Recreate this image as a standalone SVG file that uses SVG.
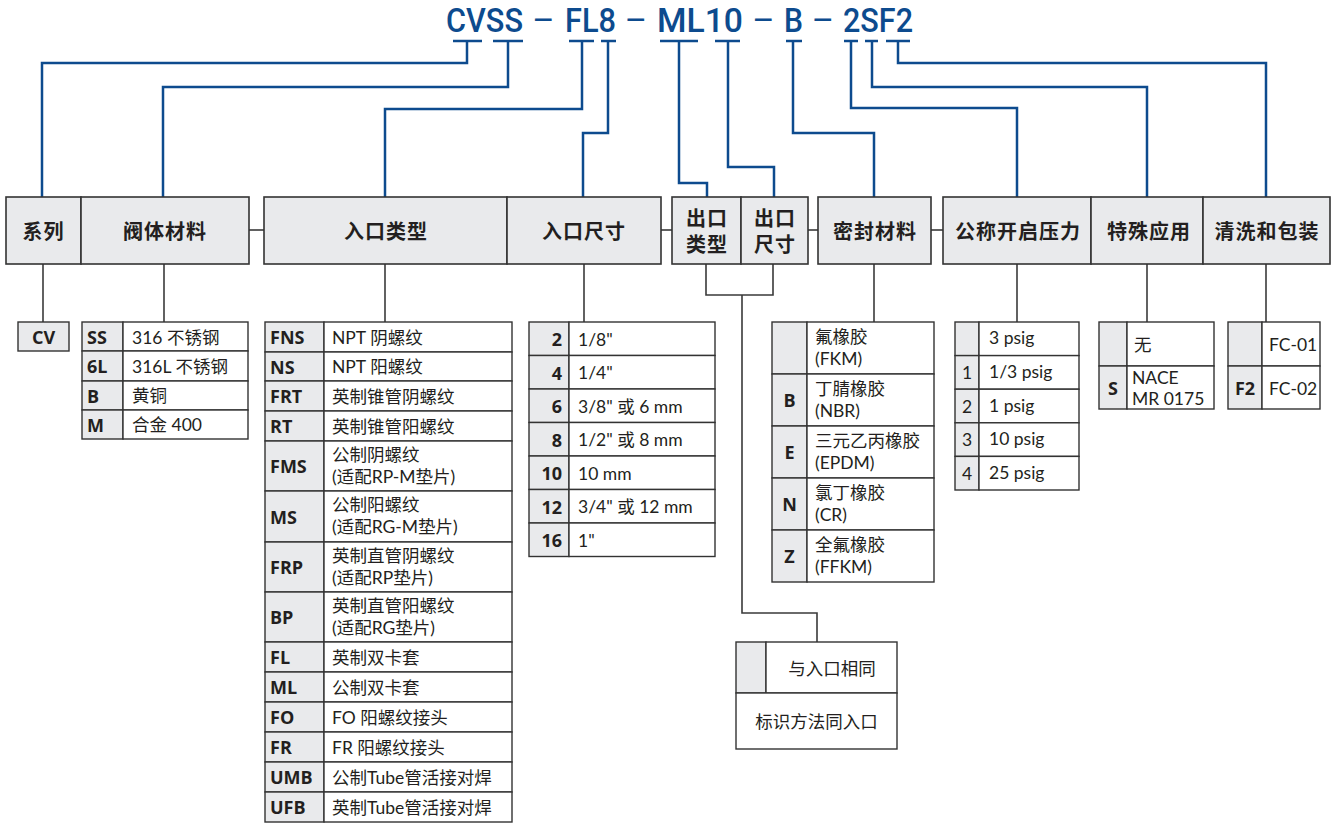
<svg xmlns="http://www.w3.org/2000/svg" width="1333" height="823" viewBox="0 0 1333 823">
<style>
.bg{fill:#ffffff}
.title{font-family:Roboto,"Liberation Sans",sans-serif;font-weight:500;font-size:34px;fill:#0d4b8e}
.dash{font-family:Roboto,"Liberation Sans",sans-serif;font-weight:400;font-size:34px;fill:#0d4b8e;text-anchor:middle}
.blue{fill:none;stroke:#0d4b8e;stroke-width:2.5}
.gray{fill:none;stroke:#3a3a3a;stroke-width:1.6}
.hd{fill:#e9eaec;stroke:#333;stroke-width:1.6}
.ht{font-family:Lato,"Noto Sans CJK SC",sans-serif;font-weight:bold;font-size:20px;letter-spacing:1px;fill:#231f20;text-anchor:middle;dominant-baseline:central}
.c{fill:#e9eaec;stroke:#333;stroke-width:1.4}
.w{fill:#ffffff;stroke:#333;stroke-width:1.4}
.k{font-family:"Open Sans","Noto Sans CJK SC",sans-serif;font-weight:bold;font-size:18px;fill:#231f20;dominant-baseline:central}
.km{text-anchor:middle}
.ke{text-anchor:end}
.d{font-family:Lato,"Noto Sans CJK SC",sans-serif;font-size:17.5px;fill:#231f20;dominant-baseline:central}
.dm{text-anchor:middle}
</style>
<rect class="bg" x="0" y="0" width="1333" height="823"/>

<g id="title">
<text class="title" x="446" y="32" textLength="77" lengthAdjust="spacingAndGlyphs">CVSS</text>
<text class="dash" x="543.5" y="32">–</text>
<text class="title" x="565" y="32" textLength="51" lengthAdjust="spacingAndGlyphs">FL8</text>
<text class="dash" x="636" y="32">–</text>
<text class="title" x="657" y="32" textLength="86" lengthAdjust="spacingAndGlyphs">ML10</text>
<text class="dash" x="763.5" y="32">–</text>
<text class="title" x="784" y="32" textLength="19" lengthAdjust="spacingAndGlyphs">B</text>
<text class="dash" x="823" y="32">–</text>
<text class="title" x="843" y="32" textLength="70" lengthAdjust="spacingAndGlyphs">2SF2</text>
</g>

<g id="connectors">
<g id="ticks" class="blue">
<line x1="453" y1="41" x2="482" y2="41"/>
<line x1="493" y1="41" x2="523" y2="41"/>
<line x1="569" y1="41" x2="594" y2="41"/>
<line x1="601" y1="41" x2="616" y2="41"/>
<line x1="660" y1="41" x2="698" y2="41"/>
<line x1="715" y1="41" x2="740" y2="41"/>
<line x1="786" y1="41" x2="802" y2="41"/>
<line x1="844" y1="41" x2="858" y2="41"/>
<line x1="865" y1="41" x2="878" y2="41"/>
<line x1="886" y1="41" x2="910" y2="41"/>
</g>
<g class="blue">
<polyline points="467,41 467,63 42,63 42,197"/>
<polyline points="508,41 508,87 163,87 163,197"/>
<polyline points="582,41 582,109 385,109 385,197"/>
<polyline points="608,41 608,133 583,133 583,197"/>
<polyline points="679,41 679,183 707,183 707,197"/>
<polyline points="728,41 728,167 774,167 774,197"/>
<polyline points="793,41 793,133 874,133 874,197"/>
<polyline points="851,41 851,108 1017,108 1017,197"/>
<polyline points="872,41 872,87 1147,87 1147,197"/>
<polyline points="898,41 898,63 1266,63 1266,197"/>
</g>
<g class="gray">
<line x1="249" y1="230" x2="264" y2="230"/>
<line x1="661" y1="230" x2="672" y2="230"/>
<line x1="808" y1="230" x2="818" y2="230"/>
<line x1="931" y1="230" x2="943" y2="230"/>
<line x1="43" y1="264" x2="43" y2="322"/>
<line x1="164" y1="264" x2="164" y2="322"/>
<line x1="385" y1="264" x2="385" y2="322"/>
<line x1="584" y1="264" x2="584" y2="322"/>
<line x1="874" y1="264" x2="874" y2="322"/>
<line x1="1017" y1="264" x2="1017" y2="322"/>
<line x1="1147" y1="264" x2="1147" y2="322"/>
<line x1="1266" y1="264" x2="1266" y2="322"/>
<polyline points="706,264 706,295 773,295 773,264"/>
<polyline points="742,295 742,613 817,613 817,642"/>
</g>
</g>

<g id="headers">
<g id="h-series"><rect class="hd" x="6" y="197" width="75" height="67"/><text class="ht" x="43.5" y="231">系列</text></g>
<g id="h-body"><rect class="hd" x="81" y="197" width="168" height="67"/><text class="ht" x="165" y="231">阀体材料</text></g>
<g id="h-intype"><rect class="hd" x="264" y="197" width="243" height="67"/><text class="ht" x="386" y="231">入口类型</text></g>
<g id="h-insize"><rect class="hd" x="507" y="197" width="154" height="67"/><text class="ht" x="584" y="231">入口尺寸</text></g>
<g id="h-outtype"><rect class="hd" x="672" y="197" width="69" height="67"/><text class="ht"><tspan x="707" y="218">出口</tspan><tspan x="707" y="244">类型</tspan></text></g>
<g id="h-outsize"><rect class="hd" x="741" y="197" width="67" height="67"/><text class="ht"><tspan x="775" y="218">出口</tspan><tspan x="775" y="244">尺寸</tspan></text></g>
<g id="h-seal"><rect class="hd" x="818" y="197" width="113" height="67"/><text class="ht" x="875" y="231">密封材料</text></g>
<g id="h-pressure"><rect class="hd" x="943" y="197" width="148" height="67"/><text class="ht" x="1018" y="231">公称开启压力</text></g>
<g id="h-special"><rect class="hd" x="1091" y="197" width="112" height="67"/><text class="ht" x="1149" y="231">特殊应用</text></g>
<g id="h-clean"><rect class="hd" x="1203" y="197" width="127" height="67"/><text class="ht" x="1267" y="231">清洗和包装</text></g>
</g>

<g id="t-series">
<rect class="c" x="18" y="322" width="51" height="29"/>
<text class="k km" x="43.5" y="337">CV</text>
</g>

<g id="t-body">
<rect class="c" x="82" y="322" width="41" height="29"/><rect class="w" x="123" y="322" width="125" height="29"/>
<rect class="c" x="82" y="351" width="41" height="30"/><rect class="w" x="123" y="351" width="125" height="30"/>
<rect class="c" x="82" y="381" width="41" height="29"/><rect class="w" x="123" y="381" width="125" height="29"/>
<rect class="c" x="82" y="410" width="41" height="29"/><rect class="w" x="123" y="410" width="125" height="29"/>
<text class="k" x="87" y="337">SS</text><text class="d" x="132" y="337">316 不锈钢</text>
<text class="k" x="87" y="366">6L</text><text class="d" x="132" y="366">316L 不锈钢</text>
<text class="k" x="87" y="395.5">B</text><text class="d" x="132" y="395.5">黄铜</text>
<text class="k" x="87" y="424.5">M</text><text class="d" x="132" y="424.5">合金 400</text>
</g>

<g id="t-intype">
<rect class="c" x="265" y="322" width="59" height="30"/><rect class="w" x="324" y="322" width="188" height="30"/>
<rect class="c" x="265" y="352" width="59" height="29"/><rect class="w" x="324" y="352" width="188" height="29"/>
<rect class="c" x="265" y="381" width="59" height="30"/><rect class="w" x="324" y="381" width="188" height="30"/>
<rect class="c" x="265" y="411" width="59" height="30"/><rect class="w" x="324" y="411" width="188" height="30"/>
<rect class="c" x="265" y="441" width="59" height="50"/><rect class="w" x="324" y="441" width="188" height="50"/>
<rect class="c" x="265" y="491" width="59" height="51"/><rect class="w" x="324" y="491" width="188" height="51"/>
<rect class="c" x="265" y="542" width="59" height="50"/><rect class="w" x="324" y="542" width="188" height="50"/>
<rect class="c" x="265" y="592" width="59" height="50"/><rect class="w" x="324" y="592" width="188" height="50"/>
<rect class="c" x="265" y="642" width="59" height="30"/><rect class="w" x="324" y="642" width="188" height="30"/>
<rect class="c" x="265" y="672" width="59" height="30"/><rect class="w" x="324" y="672" width="188" height="30"/>
<rect class="c" x="265" y="702" width="59" height="30"/><rect class="w" x="324" y="702" width="188" height="30"/>
<rect class="c" x="265" y="732" width="59" height="30"/><rect class="w" x="324" y="732" width="188" height="30"/>
<rect class="c" x="265" y="762" width="59" height="30"/><rect class="w" x="324" y="762" width="188" height="30"/>
<rect class="c" x="265" y="792" width="59" height="30"/><rect class="w" x="324" y="792" width="188" height="30"/>
<text class="k" x="270" y="337">FNS</text><text class="d" x="332" y="337">NPT 阴螺纹</text>
<text class="k" x="270" y="366.5">NS</text><text class="d" x="332" y="366.5">NPT 阳螺纹</text>
<text class="k" x="270" y="396">FRT</text><text class="d" x="332" y="396">英制锥管阴螺纹</text>
<text class="k" x="270" y="426">RT</text><text class="d" x="332" y="426">英制锥管阳螺纹</text>
<text class="k" x="270" y="466">FMS</text><text class="d"><tspan x="332" y="454">公制阴螺纹</tspan><tspan x="332" y="476">(适配RP-M垫片)</tspan></text>
<text class="k" x="270" y="516.5">MS</text><text class="d"><tspan x="332" y="504">公制阳螺纹</tspan><tspan x="332" y="526">(适配RG-M垫片)</tspan></text>
<text class="k" x="270" y="567">FRP</text><text class="d"><tspan x="332" y="555">英制直管阴螺纹</tspan><tspan x="332" y="577">(适配RP垫片)</tspan></text>
<text class="k" x="270" y="617">BP</text><text class="d"><tspan x="332" y="605">英制直管阳螺纹</tspan><tspan x="332" y="627">(适配RG垫片)</tspan></text>
<text class="k" x="270" y="657">FL</text><text class="d" x="332" y="657">英制双卡套</text>
<text class="k" x="270" y="687">ML</text><text class="d" x="332" y="687">公制双卡套</text>
<text class="k" x="270" y="717">FO</text><text class="d" x="332" y="717">FO 阳螺纹接头</text>
<text class="k" x="270" y="747">FR</text><text class="d" x="332" y="747">FR 阳螺纹接头</text>
<text class="k" x="270" y="777">UMB</text><text class="d" x="332" y="777">公制Tube管活接对焊</text>
<text class="k" x="270" y="807">UFB</text><text class="d" x="332" y="807">英制Tube管活接对焊</text>
</g>

<g id="t-insize">
<rect class="c" x="529" y="322" width="40" height="33.5"/><rect class="w" x="569" y="322" width="146" height="33.5"/>
<rect class="c" x="529" y="355.5" width="40" height="33.5"/><rect class="w" x="569" y="355.5" width="146" height="33.5"/>
<rect class="c" x="529" y="389" width="40" height="33.5"/><rect class="w" x="569" y="389" width="146" height="33.5"/>
<rect class="c" x="529" y="422.5" width="40" height="33.5"/><rect class="w" x="569" y="422.5" width="146" height="33.5"/>
<rect class="c" x="529" y="456" width="40" height="33.5"/><rect class="w" x="569" y="456" width="146" height="33.5"/>
<rect class="c" x="529" y="489.5" width="40" height="33.5"/><rect class="w" x="569" y="489.5" width="146" height="33.5"/>
<rect class="c" x="529" y="523" width="40" height="33.5"/><rect class="w" x="569" y="523" width="146" height="33.5"/>
<text class="k ke" x="562" y="339">2</text><text class="d" x="578" y="339">1/8"</text>
<text class="k ke" x="562" y="372.5">4</text><text class="d" x="578" y="372.5">1/4"</text>
<text class="k ke" x="562" y="406">6</text><text class="d" x="578" y="406">3/8" 或 6 mm</text>
<text class="k ke" x="562" y="439.5">8</text><text class="d" x="578" y="439.5">1/2" 或 8 mm</text>
<text class="k ke" x="562" y="473">10</text><text class="d" x="578" y="473">10 mm</text>
<text class="k ke" x="562" y="506.5">12</text><text class="d" x="578" y="506.5">3/4" 或 12 mm</text>
<text class="k ke" x="562" y="540">16</text><text class="d" x="578" y="540">1"</text>
</g>

<g id="t-outlet">
<rect class="c" x="736" y="642" width="30" height="51"/><rect class="w" x="766" y="642" width="131" height="51"/>
<rect class="w" x="736" y="693" width="161" height="56"/>
<text class="d dm" x="832" y="668">与入口相同</text>
<text class="d dm" x="816.5" y="721">标识方法同入口</text>
</g>

<g id="t-seal">
<rect class="c" x="772" y="322" width="35" height="52"/><rect class="w" x="807" y="322" width="127" height="52"/>
<rect class="c" x="772" y="374" width="35" height="52"/><rect class="w" x="807" y="374" width="127" height="52"/>
<rect class="c" x="772" y="426" width="35" height="52"/><rect class="w" x="807" y="426" width="127" height="52"/>
<rect class="c" x="772" y="478" width="35" height="52"/><rect class="w" x="807" y="478" width="127" height="52"/>
<rect class="c" x="772" y="530" width="35" height="52"/><rect class="w" x="807" y="530" width="127" height="52"/>
<text class="d"><tspan x="815" y="336">氟橡胶</tspan><tspan x="815" y="358">(FKM)</tspan></text>
<text class="k km" x="789.5" y="400">B</text><text class="d"><tspan x="815" y="388">丁腈橡胶</tspan><tspan x="815" y="410">(NBR)</tspan></text>
<text class="k km" x="789.5" y="452">E</text><text class="d"><tspan x="815" y="440">三元乙丙橡胶</tspan><tspan x="815" y="462">(EPDM)</tspan></text>
<text class="k km" x="789.5" y="504">N</text><text class="d"><tspan x="815" y="492">氯丁橡胶</tspan><tspan x="815" y="514">(CR)</tspan></text>
<text class="k km" x="789.5" y="556">Z</text><text class="d"><tspan x="815" y="544">全氟橡胶</tspan><tspan x="815" y="566">(FFKM)</tspan></text>
</g>

<g id="t-pressure">
<rect class="c" x="955" y="322" width="24" height="33.6"/><rect class="w" x="979" y="322" width="100" height="33.6"/>
<rect class="c" x="955" y="355.6" width="24" height="33.6"/><rect class="w" x="979" y="355.6" width="100" height="33.6"/>
<rect class="c" x="955" y="389.2" width="24" height="33.6"/><rect class="w" x="979" y="389.2" width="100" height="33.6"/>
<rect class="c" x="955" y="422.8" width="24" height="33.6"/><rect class="w" x="979" y="422.8" width="100" height="33.6"/>
<rect class="c" x="955" y="456.4" width="24" height="33.6"/><rect class="w" x="979" y="456.4" width="100" height="33.6"/>
<text class="d" x="989" y="337">3 psig</text>
<text class="d dm" x="967" y="372">1</text><text class="d" x="989" y="371">1/3 psig</text>
<text class="d dm" x="967" y="406">2</text><text class="d" x="989" y="405">1 psig</text>
<text class="d dm" x="967" y="439.5">3</text><text class="d" x="989" y="438.5">10 psig</text>
<text class="d dm" x="967" y="473">4</text><text class="d" x="989" y="472">25 psig</text>
</g>

<g id="t-special">
<rect class="c" x="1099" y="322" width="28" height="44"/><rect class="w" x="1127" y="322" width="87" height="44"/>
<rect class="c" x="1099" y="366" width="28" height="43"/><rect class="w" x="1127" y="366" width="87" height="43"/>
<text class="d" x="1134" y="344">无</text>
<text class="k km" x="1113" y="388">S</text>
<text class="d"><tspan x="1132" y="377">NACE</tspan><tspan x="1132" y="398">MR 0175</tspan></text>
</g>

<g id="t-clean">
<rect class="c" x="1228" y="322" width="34" height="44"/><rect class="w" x="1262" y="322" width="58" height="44"/>
<rect class="c" x="1228" y="366" width="34" height="43"/><rect class="w" x="1262" y="366" width="58" height="43"/>
<text class="d" x="1269" y="344">FC-01</text>
<text class="k km" x="1245" y="388">F2</text>
<text class="d" x="1269" y="388">FC-02</text>
</g>
</svg>
